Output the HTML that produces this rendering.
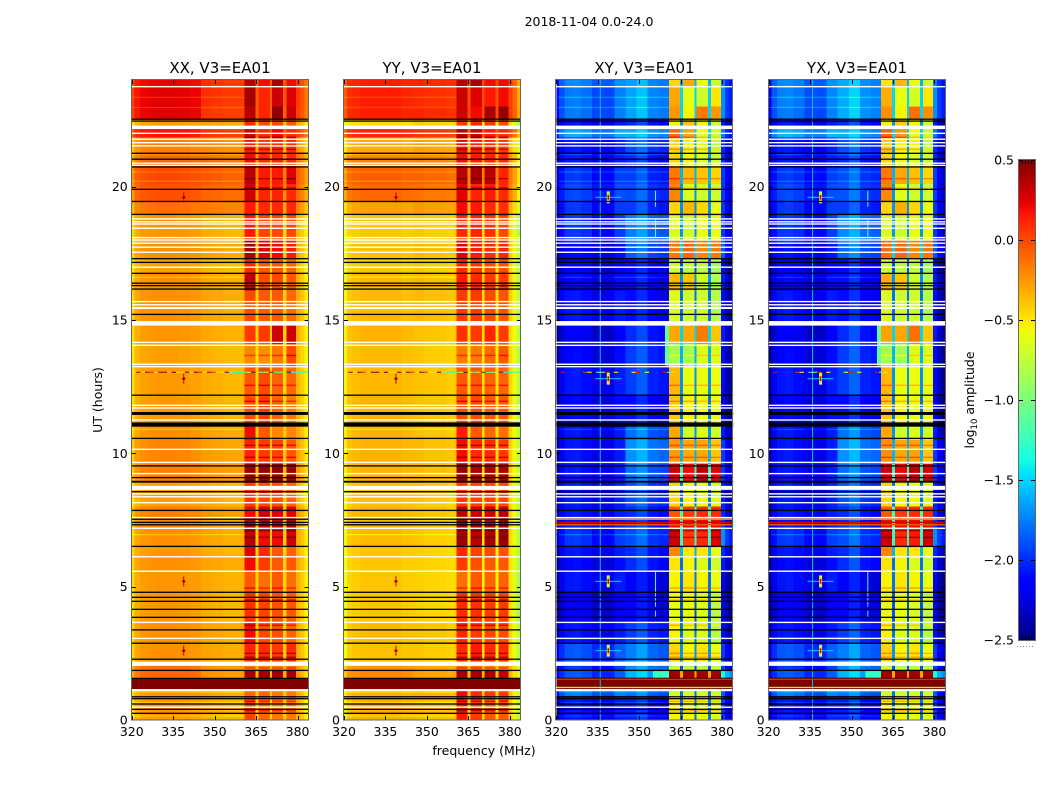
<!DOCTYPE html>
<html lang="en">
<head>
<meta charset="utf-8">
<title>2018-11-04 0.0-24.0</title>
<style>
html,body{margin:0;padding:0;background:#fff;}
svg{display:block;font-family:"DejaVu Sans","Liberation Sans",sans-serif;fill:#000;}
text{font-size:12.5px;}
.title{font-size:15px;text-anchor:middle;}
</style>
</head>
<body>
<svg id="chart" xmlns="http://www.w3.org/2000/svg" width="1050" height="800" viewBox="0 0 1050 800">
  <rect x="0" y="0" width="1050" height="800" fill="#fff"/>
  <text x="589" y="26" text-anchor="middle">2018-11-04 0.0-24.0</text>
  <g id="panel-0"></g>
  <g id="panel-1"></g>
  <g id="panel-2"></g>
  <g id="panel-3"></g>
  <text class="title" x="220" y="73">XX, V3=EA01</text>
  <text class="title" x="432" y="73">YY, V3=EA01</text>
  <text class="title" x="644.5" y="73">XY, V3=EA01</text>
  <text class="title" x="857" y="73">YX, V3=EA01</text>
  <text x="484" y="755" text-anchor="middle">frequency (MHz)</text>
  <text transform="translate(102,400) rotate(-90)" text-anchor="middle">UT (hours)</text>
  <g id="colorbar"></g>
  <text transform="translate(974,400) rotate(-90)" text-anchor="middle">log<tspan font-size="8.5" dy="3">10</tspan><tspan dy="-3"> amplitude</tspan></text>
  <line x1="1017" y1="646.5" x2="1034" y2="646.5" stroke="#888" stroke-width="1" stroke-dasharray="1 2"/>
</svg>
<script>
/* ---------- axis ticks ---------- */
const xTicks = [320, 335, 350, 365, 380];
const yTicks = [0, 5, 10, 15, 20];
const colorbarTicks = [-2.5, -2, -1.5, -1, -0.5, 0, 0.5];
const colorbarTickLabels = ['\u22122.5', '\u22122.0', '\u22121.5', '\u22121.0', '\u22120.5', '0.0', '0.5'];

/* ---------- heatmap grid: frequency columns (MHz) and time bands (hours) ---------- */
const columnEdges = [320,321,323,326,329,333,337,341,345,349,353,357,360.7,364.7,365.8,370,370.8,374.8,375.9,379.5,381,382.5,384];
const columnRole = [0,0,0,0,0,0,0,0,1,1,1,1,2,6,3,6,4,6,5,7,7,7];
const bandEdges = [24,23.75,23,22.55,22.18,21.85,21.3,20.75,20.1,19.45,18.95,18,17.3,16.75,16.1,14.85,14.1,13.25,12.2,11,10.5,9.6,8.9,8,7.6,7.2,6.5,6.1,5.6,4.8,3.7,2.9,2.2,1.85,1.55,1.15,0.9,0];

/* log10 amplitude per time band: [quiet low, quiet high, rfi block 1..4] */
const levelsXX = [
[.2,.07,.35,.2,.4,.2],[.22,.07,.4,.12,.3,.25],[.22,.05,.35,.12,.45,.3],[-.3,-.3,.1,0,0,-.05],
[.15,.05,.3,.1,.2,.1],[-.2,-.22,.15,.05,.1,.1],[-.12,-.14,.2,.1,.12,.1],[-.02,-.06,.35,.15,.15,.25],
[-.05,-.1,.3,.12,.12,.1],[-.15,-.18,.15,.1,.1,.1],[-.27,-.33,.15,.02,0,0],[-.25,-.3,.4,.25,.2,.15],
[-.3,-.35,.1,-.05,-.05,-.08],[-.25,-.32,.35,0,0,-.05],[-.25,-.3,0,-.05,-.05,-.1],[-.27,-.32,.05,.05,.3,.3],
[-.3,-.35,-.2,-.22,-.15,0],[-.28,-.33,-.05,0,-.08,-.1],[-.28,-.33,0,.05,-.08,-.15],[-.25,-.3,.2,-.05,-.2,-.2],
[-.22,-.28,.12,.05,.02,-.05],[-.2,-.25,.45,.45,.45,.42],[-.3,-.33,.05,0,-.02,-.08],[-.2,-.25,.2,.3,.25,.25],
[-.22,-.28,.35,.35,.3,.35],[-.25,-.3,.35,.2,.2,.3],[-.28,-.33,.25,.1,-.05,-.08],[-.25,-.3,.2,.05,-.05,-.05],
[-.27,-.32,-.05,-.12,-.05,-.12],[-.27,-.33,.08,.02,-.02,-.05],[-.25,-.3,.2,0,-.02,-.08],[-.25,-.3,.12,.1,.05,.1],
[-.15,-.25,-.2,-.2,-.2,-.15],[-.12,-.25,.42,.42,.42,.42],[.5,.5,.5,.5,.5,.5],[-.27,-.3,-.1,-.1,-.15,-.15],
[-.28,-.33,.02,-.1,-.15,-.15]];
const levelsYY = [
[.12,.1,.35,.4,.2,.2],[.12,.08,.3,.25,.15,.2],[.12,.1,.3,.2,.4,.45],[-.48,-.45,.05,.1,.05,0],
[.1,.05,.35,.3,.15,.1],[-.33,-.3,.2,.15,.1,.05],[-.2,-.2,.2,.15,.12,.1],[-.08,-.1,.35,.4,.35,.12],
[-.12,-.15,.25,.12,.15,.1],[-.3,-.28,.2,.15,.1,.08],[-.42,-.42,.1,.12,.08,0],[-.4,-.38,.25,.15,.1,.12],
[-.42,-.42,.1,.05,0,-.02],[-.38,-.38,.15,.1,.05,.05],[-.38,-.38,.05,.05,0,-.03],[-.36,-.4,.08,.05,.12,.05],
[-.38,-.42,-.15,-.15,-.1,-.05],[-.37,-.4,-.05,-.05,-.08,-.08],[-.36,-.4,0,0,-.05,-.05],[-.36,-.4,.15,-.05,-.1,-.12],
[-.35,-.38,.2,.1,.1,.05],[-.36,-.38,.45,.4,.4,.4],[-.4,-.42,.05,.02,.02,0],[-.36,-.4,.35,.3,.3,.35],
[-.38,-.42,.4,.35,.35,.4],[-.38,-.42,.42,.35,.4,.42],[-.42,-.45,.12,.02,0,-.02],[-.42,-.45,.05,-.02,-.05,-.05],
[-.42,-.45,-.12,-.05,-.08,-.08],[-.42,-.45,.1,.08,.05,.05],[-.38,-.4,.12,.05,.02,0],[-.4,-.42,.1,.15,.1,.1],
[-.25,-.3,-.15,-.15,-.2,-.2],[-.22,-.3,.42,.42,.42,.35],[.5,.5,.5,.5,.5,.5],[-.35,-.35,.2,.1,.05,.05],
[-.35,-.38,.15,.05,-.05,-.05]];
const levelsXY = [
[-1.75,-1.65,-.45,-.3,-.6,-.7],[-1.8,-1.65,-.3,-.6,-.7,-.5],[-1.8,-1.65,-.25,-.55,-.15,-.25],[-2.1,-2,-.55,-.4,-.55,-.7],
[-1.65,-1.6,-.1,-.3,-.6,-.7],[-2.1,-1.9,-.45,-.55,-.6,-.75],[-2.1,-2,-.45,-.55,-.65,-.7],[-2,-1.95,-.15,-.35,-.4,-.45],
[-1.95,-1.9,-.2,-.65,-.7,-.7],[-2,-1.95,-.45,-.35,-.45,-.6],[-2,-1.75,-.65,-.7,-.6,-.6],[-2.15,-1.85,-.15,-.1,-.2,-.15],
[-2.2,-2.1,-.7,-.75,-.75,-.85],[-2.15,-2.1,-.35,-.4,-.7,-.8],[-2.1,-2.1,-.65,-.7,-.7,-.8],[-2.2,-2,-.3,-.3,-.15,-.4],
[-2.15,-1.95,-.85,-.85,-.65,-.65],[-2.1,-1.95,-.35,-.6,-.6,-.6],[-2.15,-2.1,-.4,-.55,-.6,-.6],[-2.1,-1.8,-.3,-.7,-.65,-.7],
[-2.1,-1.7,-.25,-.3,-.3,-.4],[-2.1,-1.8,.3,.2,.35,.25],[-2.1,-1.9,-.45,-.55,-.6,-.65],[-2.1,-2,-.05,.05,.1,.1],
[-2.1,-2,.2,.2,.2,.2],[-2,-1.9,.3,.05,.1,.25],[-2.1,-2,-.2,-.5,-.5,-.6],[-2.15,-2,-.5,-.55,-.65,-.7],
[-2.1,-2.15,-.55,-.5,-.55,-.6],[-2.2,-2.15,-.6,-.6,-.65,-.75],[-2.1,-1.95,-.55,-.65,-.65,-.8],[-1.9,-1.75,-.45,-.55,-.5,-.6],
[-2,-1.7,-.8,-.85,-.85,-.85],[-1.9,-1.6,.42,.42,.42,.42],[.5,.5,.5,.5,.5,.5],[-1.8,-1.8,-.7,-.7,-.7,-.7],
[-2.1,-2.05,-.55,-.55,-.6,-.65]];
const levelsYX = [
[-1.75,-1.62,-.5,-.35,-.6,-.7],[-1.78,-1.62,-.32,-.6,-.68,-.5],[-1.8,-1.62,-.22,-.55,-.12,-.22],[-2.1,-2,-.55,-.42,-.55,-.7],
[-1.62,-1.6,-.08,-.25,-.6,-.7],[-2.1,-1.9,-.4,-.55,-.6,-.75],[-2.1,-2,-.45,-.55,-.65,-.7],[-2,-1.9,-.15,-.3,-.38,-.45],
[-1.95,-1.88,-.2,-.62,-.7,-.7],[-2,-1.95,-.45,-.32,-.45,-.6],[-2,-1.72,-.65,-.7,-.6,-.6],[-2.12,-1.82,-.12,-.1,-.2,-.15],
[-2.2,-2.1,-.7,-.75,-.75,-.85],[-2.15,-2.1,-.32,-.4,-.7,-.8],[-2.1,-2.1,-.65,-.7,-.7,-.8],[-2.2,-2,-.28,-.3,-.12,-.4],
[-2.15,-1.95,-.85,-.85,-.65,-.65],[-2.1,-1.95,-.35,-.6,-.6,-.6],[-2.15,-2.1,-.4,-.55,-.6,-.6],[-2.1,-1.8,-.3,-.7,-.65,-.7],
[-2.1,-1.7,-.22,-.3,-.28,-.4],[-2.1,-1.8,.3,.22,.35,.28],[-2.1,-1.9,-.45,-.55,-.6,-.65],[-2.1,-2,-.05,.05,.1,.1],
[-2.1,-2,.2,.2,.2,.2],[-2,-1.9,.3,.1,.15,.28],[-2.1,-2,-.2,-.5,-.5,-.6],[-2.15,-2,-.5,-.55,-.65,-.7],
[-2.1,-2.15,-.55,-.5,-.55,-.6],[-2.2,-2.15,-.6,-.6,-.65,-.75],[-2.1,-1.95,-.55,-.65,-.65,-.8],[-1.9,-1.75,-.45,-.55,-.5,-.6],
[-2,-1.7,-.8,-.85,-.85,-.85],[-1.9,-1.6,.42,.42,.42,.42],[.5,.5,.5,.5,.5,.5],[-1.8,-1.8,-.7,-.7,-.7,-.7],
[-2.1,-2.05,-.55,-.55,-.6,-.65]];

/* cross-hand levels per time band: gaps between rfi blocks, and the band edge above 379.5 MHz */
const gapCross = [-1.6,-1.5,-1.5,-1.7,-1.5,-1.7,-1.7,-1.6,-1.7,-1.7,-1.7,-1.5,-1.9,-1.7,-1.8,-1.5,-1.6,-1.7,-1.8,-1.7,-1.6,-1.3,-1.8,-1.2,-1.2,-1.3,-1.6,-1.8,-1.8,-1.9,-1.8,-1.7,-1.9,-.3,.5,-1.8,-1.8];
const edgeCross = [-1.9,-1.85,-1.85,-2.2,-1.9,-2.15,-2.15,-2.1,-2.1,-2.1,-2.1,-2,-2.3,-2.2,-2.25,-2.2,-2.25,-2.25,-2.3,-2.2,-2.1,-2.1,-2.2,-2.15,-2.1,-1.85,-2.15,-2.2,-2.3,-2.3,-2.25,-2.1,-2.1,-1.5,.5,-2,-2.1];

/* offset added to each frequency column */
const offsetXX = [-.2,-.05,0,.02,.03,.03,.02,0,.02,0,-.02,-.02,0,-.12,0,-.12,0,-.12,0,-.02,-.1,-.22];
const offsetYY = [-.18,-.03,0,.02,.02,.02,.02,0,.02,0,0,-.02,0,-.1,0,-.1,0,-.1,0,-.05,-.18,-.4];
const offsetXY = [-.35,-.1,.03,.05,0,-.12,-.12,.05,0,.1,-.08,-.12,0,0,0,0,0,0,0,.15,-.1,-.2];
const offsetYX = [-.35,-.1,.03,.05,0,-.12,-.12,.05,0,.12,-.08,-.12,0,0,0,0,0,0,0,.15,-.1,-.2];

/* flagged integrations, hours */
const whiteLineHours = [23.75,22,21.78,21.65,21.53,20.88,20.8,18.79,18.68,18.6,18.44,18.09,18,17.88,17.73,17.54,16.98,15.69,15.57,14.16,14.05,13.34,13.25,11.8,11.7,11.25,10.15,9.66,9.24,8.48,8.37,8.15,7.59,7.19,6.12,5.58,3.66,3.06,.48];
const whiteSpanStart = [22.29,15.49,14.96,8.78,2.19,1.16];
const whiteSpanEnd = [22.16,15.41,14.79,8.63,2.03,1.08];
const blackLineHours = [22.53,22.46,21.25,21.03,20.74,19.9,18.96,17.3,17.16,16.75,16.38,16.29,16.16,15.21,12.18,10.56,9.53,9.09,8.56,7.86,7.53,7.41,7.32,6.51,4.79,4.6,4.45,4.15,3.85,3.38,2.88,2.28,1.86,1.56,.87,.8,.6,.4,.25];
const blackSpanStart = [19.47,11.55,11.16,8.97];
const blackSpanEnd = [19.42,11.44,11,8.9];

/* narrow horizontal features */
const stripeHours = [21.85,21.4,20.3,19.95,18.95,13.67,12.55,11.95,10.3,9.85,7.1,6.85,4.95,4.5,3.55,2.5,2.35,1.95,.7,.35];
const paleHours = [23.35,22.97,21.2,20.55,20.2,17.95,16.6,10.9,6.95,1.05,.65,.15];
const crossRowHours = [7.53,7.41,7.32,1.22,1.53];
const crossRowLevel = [-.3,.25,-.1,-.9,.1];

/* point source at one frequency */
const sourceFreq = 338.8;
const sourceHours = [2.6, 5.2, 12.8, 19.6];
const sourcePeakParallel = .5;
const sourcePeakCross = .25;

/* broadband burst at one time, 1.6 MHz steps from 320 MHz */
const burstHour = 13.04;
const burstParallel = [-.5,.4,-.5,.4,.1,-.5,.4,.4,-.4,.45,-.5,-.5,.4,-.5,.45,.1,-.5,.4,.1,-.5,-.5,.4,-1,-1.3,-1.3,-1.2,-.5,.45,-.5,-1.2,-.5,.3,-1.3,-1,-.5,.4,-1.3,-1.3,-1.3,-1.3];
const burstCross = [null,.2,null,null,null,null,.1,-.5,null,-1.2,-1,.3,null,-.5,null,null,null,-.5,.2,null,-.6,null,null,null,.2,-1.2,-.5,null,null,null,null,null,null,null,null,null,null,null,null,null];

/* thin vertical lines in the cross hands: frequency, start hour, end hour, level */
const crossLineFreq = [335.9,355.9,355.9,355.9,355.9];
const crossLineStart = [0,4.25,18.1,19.25,3.85];
const crossLineEnd = [24,5.6,18.75,19.85,4.1];
const crossLineLevel = [-1.55,-1.15,-1.1,-1.1,-1.3];

/* patches next to the RFI blocks */
const patchF0 = [359.3,355];
const patchF1 = [360.7,360.7];
const patchH0 = [14.85,1.85];
const patchH1 = [13.3,1.55];
const patchLevel = [-1.1,-1.25];

/* ---------- layout and scales ---------- */
const SVGNS = 'http://www.w3.org/2000/svg';
const panelLeft = [131.75, 344, 556.3, 768.6];
const panelWidth = 176.9, panelTop = 80, panelBottom = 720;
const freqMin = 320, freqMax = 384, hourMax = 24, cMin = -2.5, cMax = .5;
const cbLeft = 1019, cbRight = 1035, cbTop = 160, cbBottom = 640;

function xScale(p, f) { return panelLeft[p] + (f - freqMin) / (freqMax - freqMin) * panelWidth; }
function yScale(h) { return panelBottom - h / hourMax * (panelBottom - panelTop); }
function cScale(v) { return cbBottom - (v - cMin) / (cMax - cMin) * (cbBottom - cbTop); }

function interp(t, xs, ys) {
  if (t <= xs[0]) return ys[0];
  for (let i = 1; i < xs.length; i++) {
    if (t <= xs[i]) return ys[i-1] + (ys[i]-ys[i-1]) * (t-xs[i-1]) / (xs[i]-xs[i-1]);
  }
  return ys[ys.length-1];
}
function jet(v) {
  const t = Math.min(1, Math.max(0, (v - cMin) / (cMax - cMin)));
  const r = interp(t, [0,.35,.66,.89,1], [0,0,1,1,.5]);
  const g = interp(t, [0,.125,.375,.64,.91,1], [0,0,1,1,0,0]);
  const b = interp(t, [0,.11,.34,.65,1], [.5,1,1,0,0]);
  return 'rgb(' + Math.round(r*255) + ',' + Math.round(g*255) + ',' + Math.round(b*255) + ')';
}
function makeRect(parent, x, y, w, h, fill, crisp) {
  const el = document.createElementNS(SVGNS, 'rect');
  el.setAttribute('x', x.toFixed(2));
  el.setAttribute('y', y.toFixed(2));
  el.setAttribute('width', w.toFixed(2));
  el.setAttribute('height', h.toFixed(2));
  el.setAttribute('fill', fill);
  if (crisp) el.setAttribute('shape-rendering', 'crispEdges');
  parent.appendChild(el);
  return el;
}
function makeLine(parent, x1, y1, x2, y2, stroke) {
  const el = document.createElementNS(SVGNS, 'line');
  el.setAttribute('x1', x1);
  el.setAttribute('y1', y1);
  el.setAttribute('x2', x2);
  el.setAttribute('y2', y2);
  el.setAttribute('stroke', stroke);
  el.setAttribute('stroke-width', '1');
  parent.appendChild(el);
  return el;
}
function makeText(parent, x, y, str, anchor) {
  const el = document.createElementNS(SVGNS, 'text');
  el.setAttribute('x', x);
  el.setAttribute('y', y);
  el.setAttribute('text-anchor', anchor);
  el.textContent = str;
  parent.appendChild(el);
  return el;
}
function bandIndex(h) {
  for (let b = 0; b < bandEdges.length - 1; b++) {
    if (h <= bandEdges[b] && h >= bandEdges[b+1]) return b;
  }
  return 0;
}

const allLevels = [levelsXX, levelsYY, levelsXY, levelsYX];
const allOffsets = [offsetXX, offsetYY, offsetXY, offsetYX];

function cellValue(p, b, c) {
  const row = allLevels[p][b], cross = p >= 2, role = columnRole[c];
  let base;
  if (role === 6) base = cross ? gapCross[b] : row[1];
  else if (role === 7) base = cross ? edgeCross[b] : row[1];
  else base = row[role];
  if (row[0] >= .45) return base;
  return base + allOffsets[p][c];
}

function drawPanel(p) {
  const g = document.getElementById('panel-' + p);
  const levels = allLevels[p], cross = p >= 2;
  const x0 = panelLeft[p], x1 = x0 + panelWidth;

  /* heatmap cells */
  for (let b = 0; b < bandEdges.length - 1; b++) {
    for (let c = 0; c < columnEdges.length - 1; c++) {
      const xa = xScale(p, columnEdges[c]), xb = xScale(p, columnEdges[c+1]);
      const ya = yScale(bandEdges[b]), yb = yScale(bandEdges[b+1]);
      const cell = makeRect(g, xa, ya, xb - xa, yb - ya, jet(cellValue(p, b, c)), true);
      
      
    }
  }
  /* pale horizontal lines */
  paleHours.forEach(function (h) {
    const b = bandIndex(h);
    for (let c = 0; c < 12; c++) {
      const val = cellValue(p, b, c) + (cross ? .18 : -.14);
      const xa = xScale(p, columnEdges[c]), xb = xScale(p, columnEdges[c+1]);
      const pale = makeRect(g, xa, yScale(h) - .6, xb - xa, 1.2, jet(val), false);
      
      
    }
  });
  /* stripes in rfi blocks */
  stripeHours.forEach(function (h) {
    const lv = levels[bandIndex(h)];
    for (let c = 12; c < 19; c += 2) {
      const xa = xScale(p, columnEdges[c]), xb = xScale(p, columnEdges[c+1]);
      const stripe = makeRect(g, xa, yScale(h) - .7, xb - xa, 1.4, jet(lv[columnRole[c]] + .25), false);
      
      
    }
  });
  /* cross-hand details */
  if (cross) {
    patchLevel.forEach(function (v, i) {
      const xa = xScale(p, patchF0[i]), xb = xScale(p, patchF1[i]);
      const ya = yScale(patchH0[i]), yb = yScale(patchH1[i]);
      const patch = makeRect(g, xa, ya, xb - xa, yb - ya, jet(v), true);
      
      
    });
    crossLineLevel.forEach(function (v, i) {
      const ya = yScale(crossLineEnd[i]), yb = yScale(crossLineStart[i]);
      const vline = makeRect(g, xScale(p, crossLineFreq[i]) - .5, ya, 1, yb - ya, jet(v), false);
      
      
    });
  }
  /* burst row */
  const burst = cross ? burstCross : burstParallel;
  burst.forEach(function (v, i) {
    if (v === null) return;
    const f = freqMin + i * 1.6;
    const seg = makeRect(g, xScale(p, f), yScale(burstHour) - .55, xScale(p, f + 1.6) - xScale(p, f), 1.1, jet(v), false);
    
    
  });
  /* point sources */
  sourceHours.forEach(function (h) {
    const cx = xScale(p, sourceFreq), cy = yScale(h);
    if (cross) {
      const glow = makeRect(g, cx - 13, cy - .5, 26, 1, jet(-1.5), false);
      
      
      const arm = makeRect(g, cx - 1.5, cy - 6, 3, 12, jet(-.7), false);
      
      
      const core = makeRect(g, cx - .8, cy - 2.5, 1.6, 5, jet(sourcePeakCross), false);
      
      
    } else {
      const arm = makeRect(g, cx - .5, cy - 5, 1, 10, jet(sourcePeakParallel - .2), false);
      
      
      const core = makeRect(g, cx - 1.5, cy - 1, 3, 2, jet(sourcePeakParallel), false);
      
      
    }
  });
  /* flags */
  whiteLineHours.forEach(function (h) {
    const flag = makeRect(g, x0, yScale(h) - .7, panelWidth, 1.4, '#fff', false);
    
    
  });
  whiteSpanStart.forEach(function (h, i) {
    const flag = makeRect(g, x0, yScale(h), panelWidth, yScale(whiteSpanEnd[i]) - yScale(h), '#fff', false);
    
    
  });
  blackLineHours.forEach(function (h) {
    const flag = makeRect(g, x0, yScale(h) - .65, panelWidth, 1.3, '#000', false);
    
    
  });
  blackSpanStart.forEach(function (h, i) {
    const flag = makeRect(g, x0, yScale(h), panelWidth, yScale(blackSpanEnd[i]) - yScale(h), '#000', false);
    
    
  });
  if (cross) {
    crossRowHours.forEach(function (h, i) {
      const row = makeRect(g, x0, yScale(h) - .65, panelWidth, 1.3, jet(crossRowLevel[i]), false);
      
      
    });
  }
  /* ticks and labels */
  xTicks.forEach(function (t) {
    const x = Math.round(xScale(p, t)) + .5;
    const tb = makeLine(g, x, panelBottom, x, panelBottom - 4, '#000');
    
    
    const tt = makeLine(g, x, panelTop, x, panelTop + 4, '#000');
    
    
    const label = makeText(g, xScale(p, t), 736, String(t), 'middle');
    
    
  });
  yTicks.forEach(function (t) {
    const y = Math.round(yScale(t)) + .5;
    if (t > 0) {
      const tl = makeLine(g, x0, y, x0 + 4, y, '#000');
      
      
      const tr = makeLine(g, x1, y, x1 - 4, y, '#000');
      
      
    }
    const label = makeText(g, x0 - 4, yScale(t) + 4.5, String(t), 'end');
    
    
  });
  /* frame */
  const frame = document.createElementNS(SVGNS, 'rect');
  frame.setAttribute('x', Math.round(x0) - .5);
  frame.setAttribute('y', panelTop - .5);
  frame.setAttribute('width', Math.round(panelWidth));
  frame.setAttribute('height', panelBottom - panelTop + .5);
  frame.setAttribute('fill', 'none');
  frame.setAttribute('stroke', '#666');
  frame.setAttribute('stroke-width', '1');
  
  
  g.appendChild(frame);
}

function drawColorbar() {
  const g = document.getElementById('colorbar');
  for (let y = cbTop; y < cbBottom; y += 2) {
    const v = cMax - (y + 1 - cbTop) / (cbBottom - cbTop) * (cMax - cMin);
    const seg = makeRect(g, cbLeft, y, cbRight - cbLeft, 2, jet(v), true);
    
    
  }
  colorbarTicks.forEach(function (t, i) {
    const y = Math.round(cScale(t)) + .5;
    const a = makeLine(g, cbLeft, y, cbLeft + 4, y, '#000');
    
    
    const b = makeLine(g, cbRight, y, cbRight - 4, y, '#000');
    
    
    const label = makeText(g, cbLeft - 5, cScale(t) + 4.5, colorbarTickLabels[i], 'end');
    
    
  });
  for (let x = cbLeft + 3.5; x < cbRight - 1; x += 3) {
    const top = makeLine(g, x, cbTop, x, cbTop + 4, '#000');
    
    
    const bot = makeLine(g, x, cbBottom, x, cbBottom - 4, '#000');
    
    
  }
  const frame = document.createElementNS(SVGNS, 'rect');
  frame.setAttribute('x', cbLeft - .5);
  frame.setAttribute('y', cbTop - .5);
  frame.setAttribute('width', cbRight - cbLeft + 1);
  frame.setAttribute('height', cbBottom - cbTop + 1);
  frame.setAttribute('fill', 'none');
  frame.setAttribute('stroke', '#666');
  frame.setAttribute('stroke-width', '1');
  
  
  g.appendChild(frame);
}

for (let p = 0; p < 4; p++) drawPanel(p);
drawColorbar();
</script>
</body>
</html>
